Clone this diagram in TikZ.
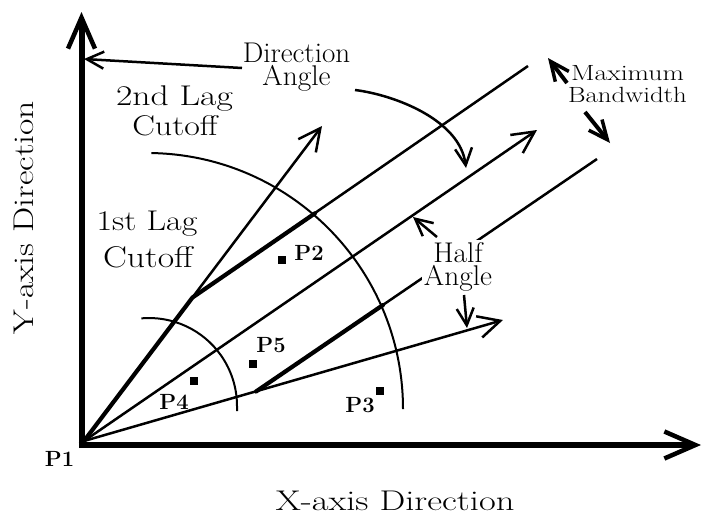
\documentclass[tikz,border=0pt]{standalone}
\usepackage{fontspec}
\usepackage{graphicx}
\usetikzlibrary{arrows.meta}
\newcommand{\xs}[2]{\scalebox{#1}[1]{#2}}
\tikzset{
  big/.style={font=\fontsize{28.5}{23}\selectfont, inner sep=0pt, anchor=base},
  mid/.style={font=\fontsize{22}{22}\selectfont, inner sep=0pt, anchor=base},
  plab/.style={font=\fontsize{22}{24}\selectfont\bfseries, inner sep=0pt},
  dot/.style={fill=black, draw=none, rectangle, minimum size=8pt, inner sep=0pt},
  axis/.style={line width=6pt, -{Straight Barb[length=31pt,width=27pt,line width=4.5pt]}},
  ray/.style={line width=2.5pt, -{Straight Barb[length=22pt,width=22pt,line width=2.5pt]}},
  bw/.style={line width=2.5pt},
  bwthick/.style={line width=4.2pt, line cap=round},
  lag/.style={line width=2pt},
  pointer/.style={line width=2.5pt, -{Straight Barb[length=17pt,width=17pt,line width=2.5pt]}},
  thickpointer/.style={line width=4pt, -{Straight Barb[length=19pt,width=17pt,line width=3.5pt]}},
}
\begin{document}
\begin{tikzpicture}[x=1pt,y=-1pt]
\useasboundingbox (0,0) rectangle (702,515);

% key points
\coordinate (O) at (84,441);
\coordinate (Ytail) at (81.5,448);
\coordinate (Ytip) at (81.5,12);
\coordinate (Xtail) at (78.5,445);
\coordinate (Xtip) at (701,445);
\coordinate (Utip) at (322,126);
\coordinate (Ttip) at (537,130);
\coordinate (Ltip) at (503,320);
\coordinate (K1) at (192.5,297.5);
\coordinate (K2) at (256,391.5);
\coordinate (B1) at (528,66);
\coordinate (B2) at (597,159);
\coordinate (E1) at (315,213.3);
\coordinate (E2) at (383,305);
\coordinate (C1) at (149,406);
\coordinate (C2) at (147,409);

% axes
\draw[axis] (Ytail) -- (Ytip);
\draw[axis] (Xtail) -- (Xtip);

% rays
\draw[ray] (O) -- (Utip);
\draw[ray] (O) -- (Ttip);
\draw[ray] (O) -- (Ltip);

% bandwidth lines
\draw[bw] (K1) -- (B1);
\draw[bw] (K2) -- (B2);

% search window boundary (thicker)
\draw[bwthick] (O) -- (K1) -- (E1);
\draw[bwthick] (K2) -- (E2);

% lag cutoffs
\draw[lag] (C1) ++(-95:88) arc[start angle=-95, end angle=0, radius=88] -- ++(0,5);
\draw[lag] (C2) ++(-89:256) arc[start angle=-89, end angle=0, radius=256];

% data points
\node[dot] (p2) at (282,260) {};
\node[dot] (p5) at (253,364) {};
\node[dot] (p4) at (194,381) {};
\node[dot] (p3) at (380,391) {};
\node[plab] (p1l) at (59.5,459) {P1};
\node[plab] (p2l) at (309,252.5) {P2};
\node[plab] (p3l) at (360,405.5) {P3};
\node[plab] (p4l) at (174,402) {P4};
\node[plab] (p5l) at (271,345.5) {P5};

% axis labels
\node[big] (xlab) at (395,510.5) {\xs{1.28}{X-axis Direction}};
\node[big, rotate=90] (ylab) at (33,217.5) {\xs{1.25}{Y-axis Direction}};

% text labels
\node[big, align=center] (dirA) at (296.5,85) {\xs{1.02}{Direction}\\\xs{1.03}{Angle}};
\node[big] (lag2a) at (174.5,105) {\xs{1.25}{2nd Lag}};
\node[big] (lag2b) at (175,135) {\xs{1.19}{Cutoff}};
\node[big] (lag1a) at (147,230) {\xs{1.19}{1st Lag}};
\node[big, font=\fontsize{30}{32}\selectfont] (lag1b) at (148,267.5) {\xs{1.19}{Cutoff}};
\node[mid, align=center] (mb) at (627.5,102) {\xs{1.26}{Maximum}\\\xs{1.22}{Bandwidth}};
\node[big, align=center, fill=white, inner sep=2pt] (ha) at (458,285) {\xs{1.03}{Half}\\\xs{1.03}{Angle}};

% pointers
\coordinate (a1s) at (242,68);
\coordinate (a1e) at (84,59);
\coordinate (a2s) at (355,90);
\coordinate (a2e) at (466,168);
\coordinate (m1s) at (567,83);
\coordinate (m1e) at (548,58);
\coordinate (m2s) at (585,112);
\coordinate (m2e) at (610,143);
\coordinate (h1s) at (437,237);
\coordinate (h1e) at (413,217);
\coordinate (h2s) at (464,295);
\coordinate (h2e) at (467,328);

\draw[pointer] (a1s) -- (a1e);
\draw[pointer] (a2s) .. controls (395,95) and (460,120) .. (a2e);
\draw[thickpointer] (m1s) -- (m1e);
\draw[thickpointer] (m2s) -- (m2e);
\draw[pointer] (h1s) -- (h1e);
\draw[pointer] (h2s) -- (h2e);
\end{tikzpicture}
\end{document}
